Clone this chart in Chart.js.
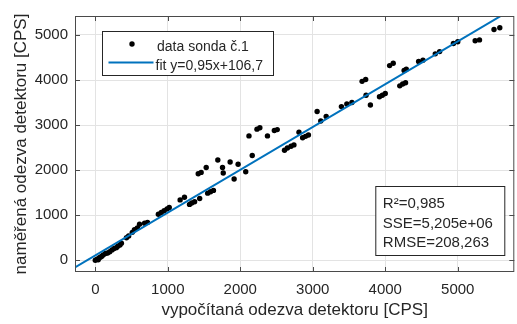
<!DOCTYPE html>
<html><head><meta charset="utf-8">
<script src="https://cdn.jsdelivr.net/npm/chart.js@4/dist/chart.umd.min.js"></script>
<style>html,body{margin:0;padding:0;background:#fff}canvas{display:block}</style>
</head><body>
<canvas id="c" width="517" height="324"></canvas>
<script>
// ---- data ----
const calcX = [0,20,40,50,70,90,110,140,170,200,230,260,290,310,340,360,430,460,510,540,580,610,680,720,
  870,910,950,990,1020,1170,1230,1300,1330,1370,1440,1550,1590,1630,1420,1460,1530,1690,1755,1765,1860,1915,
  1970,2075,2165,2120,2230,2270,2375,2470,2510,2610,2650,2700,2740,2810,2860,2900,2940,3060,3110,3185,3395,
  3470,3540,3680,3730,3735,3795,3920,3960,4000,4060,4110,4200,4240,4280,4260,4290,4460,4520,4690,4750,4940,
  5000,5240,5300,5500,5580];
const measY = [0,20,10,50,70,90,120,150,160,190,230,260,280,310,340,380,500,540,620,680,720,800,820,840,
  1020,1060,1100,1140,1170,1340,1400,1240,1270,1300,1370,1490,1520,1550,1920,1950,2060,2225,2060,1935,2180,1805,
  2130,1965,2325,2760,2910,2940,2760,2880,2900,2440,2490,2530,2560,2840,2720,2750,2780,3300,3090,3190,3410,
  3470,3500,3970,4010,3660,3445,3630,3660,3700,4320,4370,3870,3910,3940,4210,4240,4410,4440,4580,4630,4810,
  4850,4870,4890,5120,5160];
const fitSlope = 0.95, fitIntercept = 106.7;
const xTicks = [0,1000,2000,3000,4000,5000];
const yTicks = [0,1000,2000,3000,4000,5000];
const xRange = [-280, 5780];
const yRange = [-260, 5420];
const legendLabels = ['data sonda č.1', 'fit y=0,95x+106,7'];
const statsLines = ['R²=0,985', 'SSE=5,205e+06', 'RMSE=208,263'];
const xTitle = 'vypočítaná odezva detektoru [CPS]';
const yTitle = 'naměřená odezva detektoru [CPS]';

// ---- styling ----
const FONT = '"Liberation Sans", Arial, Helvetica, sans-serif';
const TXT = '#262626';
const AX = '#4a4a4a';
const GRID = '#e3e3e3';
const BLUE = '#0072BD';

const points = calcX.map((v,i)=>({x:v, y:measY[i]}));
const fitLine = xRange.map(v=>({x:v, y:fitSlope*v+fitIntercept}));

const frame = {
  id:'frame',
  afterDatasetsDraw(chart){
    const {ctx, chartArea:a, scales:{x,y}} = chart;
    ctx.save();
    ctx.strokeStyle = AX; ctx.lineWidth = 1;
    ctx.beginPath();
    xTicks.forEach(v=>{
      const px = Math.round(x.getPixelForValue(v))+0.5;
      ctx.moveTo(px,a.bottom); ctx.lineTo(px,a.bottom-5);
      ctx.moveTo(px,a.top); ctx.lineTo(px,a.top+5);
    });
    yTicks.forEach(v=>{
      const py = Math.round(y.getPixelForValue(v))+0.5;
      ctx.moveTo(a.left,py); ctx.lineTo(a.left+5,py);
      ctx.moveTo(a.right,py); ctx.lineTo(a.right-5,py);
    });
    ctx.stroke();
    ctx.strokeRect(a.left+0.5, a.top+0.5, a.right-a.left-1, a.bottom-a.top-1);

    // legend
    const lx = a.left+27.5, ly = a.top+15.5;
    ctx.fillStyle='#fff'; ctx.fillRect(lx,ly,171,44);
    ctx.strokeStyle='#262626'; ctx.strokeRect(lx,ly,171,44);
    ctx.fillStyle='#000';
    ctx.beginPath(); ctx.arc(lx+29.5, ly+12.5, 2.7, 0, Math.PI*2); ctx.fill();
    ctx.strokeStyle=BLUE; ctx.lineWidth=2;
    ctx.beginPath(); ctx.moveTo(lx+6, ly+31); ctx.lineTo(lx+51, ly+31); ctx.stroke();
    ctx.fillStyle=TXT; ctx.font='14px '+FONT; ctx.textBaseline='alphabetic'; ctx.textAlign='left';
    ctx.fillText(legendLabels[0], lx+54.5, ly+19.5);
    ctx.fillText(legendLabels[1], lx+53, ly+38);

    // stats box
    const sw=129, sh=69;
    const sx = a.right-9.5-sw, sy = a.bottom-16.5-sh;
    ctx.lineWidth=1;
    ctx.fillStyle='#fff'; ctx.fillRect(sx,sy,sw,sh);
    ctx.strokeStyle='#262626'; ctx.strokeRect(sx,sy,sw,sh);
    ctx.fillStyle=TXT; ctx.font='15px '+FONT;
    const base=[21.5,41.5,60.5];
    statsLines.forEach((t,i)=>ctx.fillText(t, sx+7, sy+base[i]));
    ctx.restore();
  }
};

new Chart(document.getElementById('c'), {
  type:'scatter',
  data:{datasets:[
    {label:legendLabels[0], data:points, backgroundColor:'#000', borderColor:'#000',
     pointRadius:2.7, pointHoverRadius:2.7, borderWidth:0, order:2},
    {label:legendLabels[1], type:'line', data:fitLine, borderColor:BLUE, borderWidth:2,
     pointRadius:0, fill:false, showLine:true, clip:0, order:1}
  ]},
  options:{
    responsive:false, animation:false, devicePixelRatio:1,
    layout:{padding:{top:10,right:1,left:0,bottom:0}},
    plugins:{legend:{display:false}, tooltip:{enabled:false}},
    scales:{
      x:{type:'linear', position:'bottom', min:xRange[0], max:xRange[1],
        afterBuildTicks:s=>{s.ticks=xTicks.map(v=>({value:v}));},
        afterFit:s=>{s.height=52;},
        grid:{color:GRID, drawTicks:false, lineWidth:1},
        border:{display:false},
        ticks:{font:{family:FONT,size:15}, color:TXT, padding:9, maxRotation:0, callback:v=>String(v)},
        title:{display:true, text:xTitle, font:{family:FONT,size:17}, color:TXT, padding:{top:0,bottom:3}}
      },
      y:{type:'linear', min:yRange[0], max:yRange[1],
        afterBuildTicks:s=>{s.ticks=yTicks.map(v=>({value:v}));},
        afterFit:s=>{s.width=75;},
        grid:{color:GRID, drawTicks:false, lineWidth:1},
        border:{display:false},
        ticks:{font:{family:FONT,size:15}, color:TXT, padding:7, callback:v=>String(v)},
        title:{display:true, text:yTitle, font:{family:FONT,size:17}, color:TXT, padding:{top:11,bottom:0}}
      }
    }
  },
  plugins:[frame]
});
</script>
</body></html>
